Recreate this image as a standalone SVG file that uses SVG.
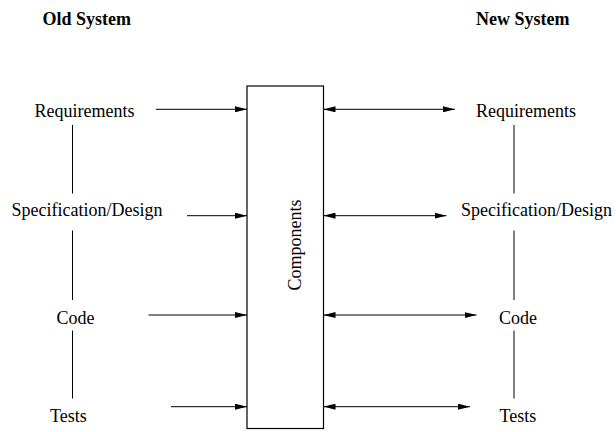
<svg xmlns="http://www.w3.org/2000/svg" width="616" height="432" viewBox="0 0 616 432">
  <style>
    .lbl { font-family: "Liberation Serif", "Times New Roman", serif; font-size: 18px; fill: #000; }
    .hdr { font-family: "Liberation Serif", "Times New Roman", serif; font-size: 18px; font-weight: bold; fill: #000; }
    .ln { stroke: #000; stroke-width: 1; fill: none; }
    .arr { stroke: #000; stroke-width: 1; fill: none; marker-end: url(#head); }
    .dbl { stroke: #000; stroke-width: 1; fill: none; marker-start: url(#head); marker-end: url(#head); }
  </style>
  <defs>
    <marker id="head" markerUnits="userSpaceOnUse" markerWidth="12" markerHeight="6" refX="12" refY="3" orient="auto-start-reverse">
      <path d="M0,0 L12,3 L0,6 z" fill="#000"/>
    </marker>
  </defs>
  <rect width="616" height="432" fill="#fff"/>

  <!-- column headings -->
  <g id="heading-old"><text class="hdr" x="42.5" y="25">Old System</text></g>
  <g id="heading-new"><text class="hdr" x="476" y="25">New System</text></g>

  <!-- central components box -->
  <g id="components">
    <rect x="247" y="86" width="76.5" height="342.5" fill="none" stroke="#000" stroke-width="1.2"/>
    <text class="lbl" text-anchor="middle" transform="translate(300.5,245) rotate(-90)">Components</text>
  </g>

  <!-- old system phases -->
  <g id="old-requirements"><text class="lbl" x="34.5" y="117">Requirements</text></g>
  <g id="old-spec"><text class="lbl" x="11.5" y="216">Specification/Design</text></g>
  <g id="old-code"><text class="lbl" x="56.5" y="323.5">Code</text></g>
  <g id="old-tests"><text class="lbl" x="50" y="422">Tests</text></g>

  <!-- new system phases -->
  <g id="new-requirements"><text class="lbl" x="476" y="117">Requirements</text></g>
  <g id="new-spec"><text class="lbl" x="461" y="216">Specification/Design</text></g>
  <g id="new-code"><text class="lbl" x="499" y="323.5">Code</text></g>
  <g id="new-tests"><text class="lbl" x="499.5" y="422">Tests</text></g>

  <g id="connectors">
    <!-- phase chains -->
    <line class="ln" x1="72.5" y1="125" x2="72.5" y2="193.5"/>
    <line class="ln" x1="72.5" y1="230.5" x2="72.5" y2="300"/>
    <line class="ln" x1="72.5" y1="330.5" x2="72.5" y2="398.5"/>
    <line class="ln" x1="514" y1="125" x2="514" y2="193.5"/>
    <line class="ln" x1="514" y1="230.5" x2="514" y2="300"/>
    <line class="ln" x1="514" y1="330.5" x2="514" y2="398.5"/>

    <!-- old system into components -->
    <line class="arr" x1="156" y1="109.3" x2="247" y2="109.3"/>
    <line class="arr" x1="187" y1="215.7" x2="247" y2="215.7"/>
    <line class="arr" x1="148.5" y1="315" x2="247" y2="315"/>
    <line class="arr" x1="171" y1="406.7" x2="247" y2="406.7"/>

    <!-- components to and from new system -->
    <line class="dbl" x1="323.5" y1="109.3" x2="455" y2="109.3"/>
    <line class="dbl" x1="323.5" y1="215.7" x2="446.5" y2="215.7"/>
    <line class="dbl" x1="323.5" y1="315" x2="476.5" y2="315"/>
    <line class="dbl" x1="323.5" y1="406.7" x2="470" y2="406.7"/>
  </g>
</svg>
